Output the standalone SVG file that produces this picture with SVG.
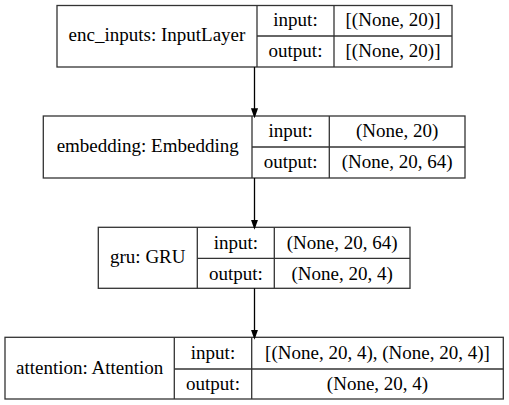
<svg xmlns="http://www.w3.org/2000/svg" width="509" height="405" viewBox="0 0 509 405">
<defs>
<style>
.box{fill:#fff;stroke:#333;stroke-width:1.3}
.ln{stroke:#333;stroke-width:1.3;fill:none}
text{font-family:"Liberation Serif","Times New Roman",serif;font-size:19px;fill:#000;text-anchor:middle}
.edge{stroke:#000;stroke-width:1.3;fill:none}
</style>
<marker id="ah" markerWidth="10" markerHeight="14" refX="10" refY="5" orient="auto" markerUnits="userSpaceOnUse" viewBox="0 0 14 10">
<path d="M0,0 L14,5 L0,10 Z" fill="#000"/>
</marker>
</defs>
<rect width="509" height="405" fill="#fff"/>
<g id="enc_inputs">
<rect class="box" x="57" y="5.5" width="395" height="61.5"/>
<line class="ln" x1="257" y1="5.5" x2="257" y2="67"/>
<line class="ln" x1="334" y1="5.5" x2="334" y2="67"/>
<line class="ln" x1="257" y1="36" x2="452" y2="36"/>
<text x="157" y="41.3">enc_inputs: InputLayer</text>
<text x="295.5" y="26.3">input:</text>
<text x="393" y="26.3">[(None, 20)]</text>
<text x="295.5" y="57.3">output:</text>
<text x="393" y="57.3">[(None, 20)]</text>
</g>
<g id="embedding">
<rect class="box" x="43.3" y="116" width="421.7" height="62"/>
<line class="ln" x1="252" y1="116" x2="252" y2="178"/>
<line class="ln" x1="329.3" y1="116" x2="329.3" y2="178"/>
<line class="ln" x1="252" y1="147" x2="465" y2="147"/>
<text x="147.7" y="152.3">embedding: Embedding</text>
<text x="290.7" y="137.3">input:</text>
<text x="397.2" y="137.3">(None, 20)</text>
<text x="290.7" y="168.3">output:</text>
<text x="397.2" y="168.3">(None, 20, 64)</text>
</g>
<g id="gru">
<rect class="box" x="98.3" y="227.3" width="311.7" height="61"/>
<line class="ln" x1="197.3" y1="227.3" x2="197.3" y2="288.3"/>
<line class="ln" x1="274.3" y1="227.3" x2="274.3" y2="288.3"/>
<line class="ln" x1="197.3" y1="258.3" x2="410" y2="258.3"/>
<text x="147.8" y="263.1">gru: GRU</text>
<text x="235.8" y="248.6">input:</text>
<text x="342.2" y="248.6">(None, 20, 64)</text>
<text x="235.8" y="279.6">output:</text>
<text x="342.2" y="279.6">(None, 20, 4)</text>
</g>
<g id="attention">
<rect class="box" x="5" y="337.3" width="498.3" height="61.7"/>
<line class="ln" x1="174.3" y1="337.3" x2="174.3" y2="399"/>
<line class="ln" x1="251.7" y1="337.3" x2="251.7" y2="399"/>
<line class="ln" x1="174.3" y1="369" x2="503.3" y2="369"/>
<text x="89.7" y="373.5">attention: Attention</text>
<text x="213" y="358.6">input:</text>
<text x="377.5" y="358.6">[(None, 20, 4), (None, 20, 4)]</text>
<text x="213" y="390.3">output:</text>
<text x="377.5" y="390.3">(None, 20, 4)</text>
</g>
<g id="connectors">
<line class="edge" x1="254.5" y1="67" x2="254.5" y2="115.5" marker-end="url(#ah)"/>
<line class="edge" x1="254.5" y1="178" x2="254.5" y2="226.8" marker-end="url(#ah)"/>
<line class="edge" x1="254.5" y1="288.3" x2="254.5" y2="336.8" marker-end="url(#ah)"/>
</g>
</svg>
